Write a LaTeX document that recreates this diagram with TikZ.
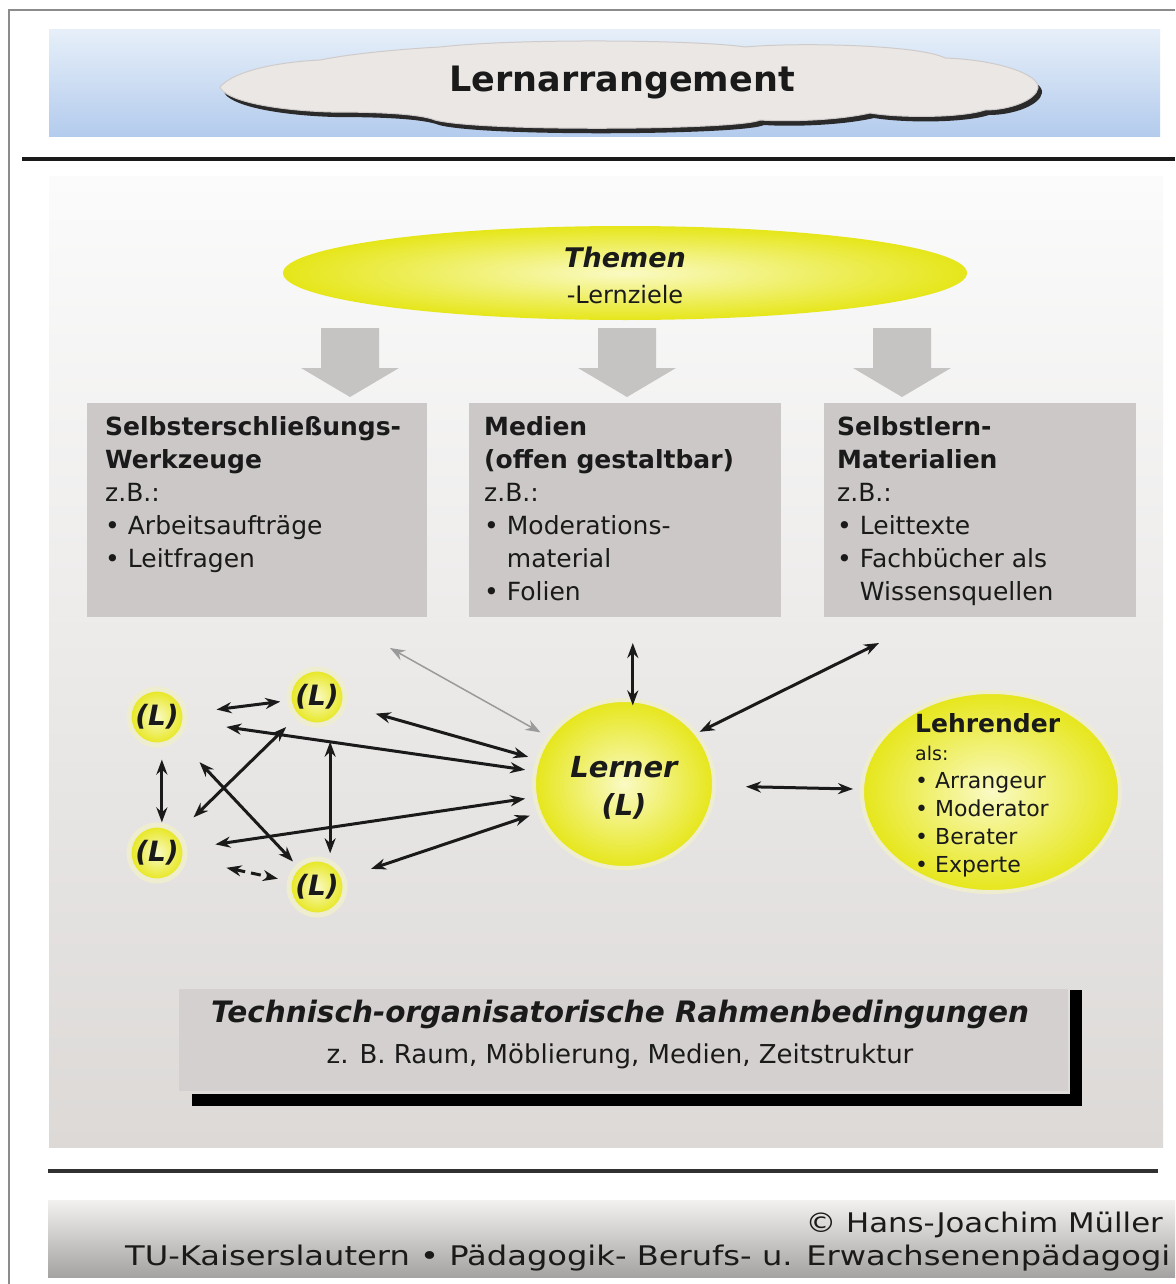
\documentclass[tikz,border=0pt]{standalone}
\usepackage{fontspec}
\setmainfont{DejaVu Sans}
\usetikzlibrary{shapes.geometric,arrows.meta}

\definecolor{framegray}{HTML}{8C8C8C}
\definecolor{headtop}{HTML}{E6EFF9}
\definecolor{headbot}{HTML}{B3CBED}
\definecolor{cloudfill}{HTML}{EAE7E5}
\definecolor{cloudedge}{HTML}{CFCBCA}
\definecolor{cloudshadow}{HTML}{2A2A2A}
\definecolor{paneltop}{HTML}{FBFBFB}
\definecolor{panelbot}{HTML}{DCD9D7}
\definecolor{boxgray}{HTML}{CBC8C7}
\definecolor{arrowgray}{HTML}{C6C4C3}
\definecolor{yelin}{HTML}{FAFAC4}
\definecolor{yelout}{HTML}{E6E61A}
\definecolor{halo}{HTML}{EFEDCF}
\definecolor{rahmengray}{HTML}{D4D0CF}
\definecolor{foottop}{HTML}{F3F1EF}
\definecolor{footbot}{HTML}{A5A3A1}
\definecolor{thinarrow}{HTML}{9A9A9A}
\definecolor{inkdark}{HTML}{1A1A1A}

\newcommand\fsz[2]{\fontsize{#1}{#2}\selectfont}

\begin{document}
\begin{tikzpicture}[x=1pt,y=-1pt,
  >={Stealth[length=15pt,width=11pt]},
  every node/.style={text=inkdark},
  grayblock/.style={fill=boxgray, inner sep=0, outer sep=0},
  boxtext/.style={anchor=north west, align=left, inner sep=0, font=\fsz{25}{33}},
  yellowdisc/.style={inner sep=0, outer sep=0, inner color=yelin, outer color=yelout},
  learner/.style={yellowdisc, circle, minimum size=56pt, draw=halo, line width=5pt,
    font=\bfseries\itshape\fsz{28}{32}},
  link/.style={<->, line width=3pt, draw=inkdark},
  faintlink/.style={<->, line width=1.5pt, draw=thinarrow}]

\useasboundingbox (0,0) rectangle (1175,1284);
\fill[white] (0,0) rectangle (1175,1284);

% outer frame
\draw[framegray, line width=1.6pt] (9,1284) -- (9,10) -- (1175,10);

% header band with the title cloud
\shade[top color=headtop, bottom color=headbot] (49,30) rectangle (1160,137);
\def\cloudoutline{(220,87) .. controls (235,70) and (280,62) .. (320,60)
  .. controls (360,52) and (420,48) .. (440,47)
  .. controls (520,38) and (700,40) .. (745,47)
  .. controls (800,42) and (920,45) .. (945,58)
  .. controls (1000,60) and (1040,75) .. (1038,88)
  .. controls (1036,100) and (1010,110) .. (985,110)
  .. controls (960,118) and (900,118) .. (870,113)
  .. controls (840,120) and (790,122) .. (760,120)
  .. controls (740,130) and (480,132) .. (435,120)
  .. controls (420,114) and (380,112) .. (330,112)
  .. controls (270,110) and (225,100) .. (220,87) -- cycle}
\fill[cloudshadow, shift={(4,5)}] \cloudoutline;
\filldraw[fill=cloudfill, draw=cloudedge, line width=1pt] \cloudoutline;
\node[anchor=base, inner sep=0, font=\bfseries\fsz{35}{40}] (title) at (622,92) {Lernarrangement};

\draw[line width=4pt, inkdark] (22,159) -- (1175,159);

% main panel
\shade[top color=paneltop, bottom color=panelbot] (49,177) rectangle (1163,1147);

% topics
\node[yellowdisc, ellipse, minimum width=684pt, minimum height=94pt] (themen) at (625,273) {};
\node[anchor=north, align=center, inner sep=0, font=\fsz{24}{36}] (themtext) at (625,247)
  {{\bfseries\itshape\fsz{27}{36}Themen}\\-Lernziele};

% block arrows towards the three resource boxes
\foreach \c in {350,627,902}
  \fill[arrowgray] ({\c-29},328) -- ({\c+29},328) -- ({\c+29},368) -- ({\c+49},368)
    -- (\c,397) -- ({\c-49},368) -- ({\c-29},368) -- cycle;

% resource boxes
\node[grayblock, minimum width=340pt, minimum height=214pt] (b1) at (257,510) {};
\node[grayblock, minimum width=312pt, minimum height=214pt] (b2) at (625,510) {};
\node[grayblock, minimum width=312pt, minimum height=214pt] (b3) at (980,510) {};
\node[boxtext] (t1) at (105,416) {\textbf{Selbsterschließungs-}\\\textbf{Werkzeuge}\\z.B.:\\
  \textbullet\ Arbeitsaufträge\\\textbullet\ Leitfragen};
\node[boxtext] (t2) at (484,416) {\textbf{Medien}\\\textbf{(offen gestaltbar)}\\z.B.:\\
  \textbullet\ Moderations-\\\hphantom{\textbullet\ }material\\\textbullet\ Folien};
\node[boxtext] (t3) at (837,416) {\textbf{Selbstlern-}\\\textbf{Materialien}\\z.B.:\\
  \textbullet\ Leittexte\\\textbullet\ Fachbücher als\\\hphantom{\textbullet\ }Wissensquellen};

% learners
\node[learner] (L1) at (157,717) {(L)};
\node[learner] (L2) at (317,697) {(L)};
\node[learner] (L3) at (157,853) {(L)};
\node[learner] (L4) at (317,887) {(L)};

\node[yellowdisc, ellipse, minimum width=180pt, minimum height=168pt, draw=halo, line width=4pt] (Lern) at (624,784) {};
\node[anchor=north, align=center, inner sep=0, font=\bfseries\itshape\fsz{29}{38}] (lerntext) at (624,756) {Lerner\\(L)};

\node[yellowdisc, ellipse, minimum width=258pt, minimum height=200pt, draw=halo, line width=4pt] (Lehr) at (991,792) {};
\node[anchor=north west, align=left, inner sep=0, font=\fsz{22}{28}] (lehrtext) at (915,713)
  {{\bfseries\fsz{25}{28}Lehrender}\\{\fsz{19}{28}als:}\\\textbullet\ Arrangeur\\
   \textbullet\ Moderator\\\textbullet\ Berater\\\textbullet\ Experte};

% connections among the learners
\draw[link, shorten <=32pt, shorten >=9pt] (L1) -- (L2);
\draw[link, shorten <=15pt, shorten >=3pt] (L1.-80) -- (L3.80);
\draw[link, shorten <=34pt, shorten >=7pt] (L1) -- (L4);
\draw[link, shorten <=23pt, shorten >=15pt] (L3) -- (L2);
\draw[link, shorten <=20pt, shorten >=9pt] (L2.-62) -- (L4.62);
\draw[link, dash pattern=on 10pt off 6pt, shorten <=43pt, shorten >=12pt] (L3) -- (L4);

% learners to the central learner
\draw[link, shorten <=42pt, shorten >=10pt] (L1) -- (Lern);
\draw[link, shorten <=33pt, shorten >=10pt] (L2) -- (Lern);
\draw[link, shorten <=31pt, shorten >=10pt] (L3) -- (Lern);
\draw[link, shorten <=29pt, shorten >=10pt] (L4) -- (Lern);

% resources to the central learner
\draw[faintlink, shorten >=10pt] ([xshift=-37pt,yshift=-31pt]b1.south east) -- (Lern.148);
\draw[link, shorten <=26pt, shorten >=-5pt] (b2.south -| Lern.84) -- (Lern.84);
\draw[link, shorten >=4pt] ([xshift=55pt,yshift=-26pt]b3.south west) -- (Lern.35);

% learner and teacher
\draw[link, shorten <=32pt, shorten >=9pt] (Lern) -- (Lehr);

% organisational frame conditions
\node[fill=rahmengray, minimum width=889pt, minimum height=102pt, inner sep=0] (rahmen) at (623.5,1040) {};
\fill[black] (1070,990) rectangle (1082,1106);
\fill[black] (192,1094) rectangle (1082,1106);
\node[anchor=north, align=center, inner sep=0, font=\fsz{26}{41}] (rahmentext) at (620,1000)
  {{\bfseries\itshape\fsz{29.5}{41}Technisch-organisatorische Rahmenbedingungen}\\
   z. B. Raum, Möblierung, Medien, Zeitstruktur};

% footer
\draw[line width=4pt, draw=inkdark!90] (48,1171) -- (1158,1171);
\shade[top color=foottop, bottom color=footbot] (48,1200) rectangle (1175,1277);
\node[anchor=base east, inner sep=0, font=\fsz{27}{32}] (copyr) at (1163,1232)
  {\scalebox{1.14}[1]{© Hans-Joachim Müller}};
\node[anchor=base west, inner sep=0, font=\fsz{27}{32}] (inst) at (125,1265)
  {\scalebox{1.19}[1]{TU-Kaiserslautern • Pädagogik- Berufs- u. Erwachsenenpädagogi}};

\end{tikzpicture}
\end{document}
